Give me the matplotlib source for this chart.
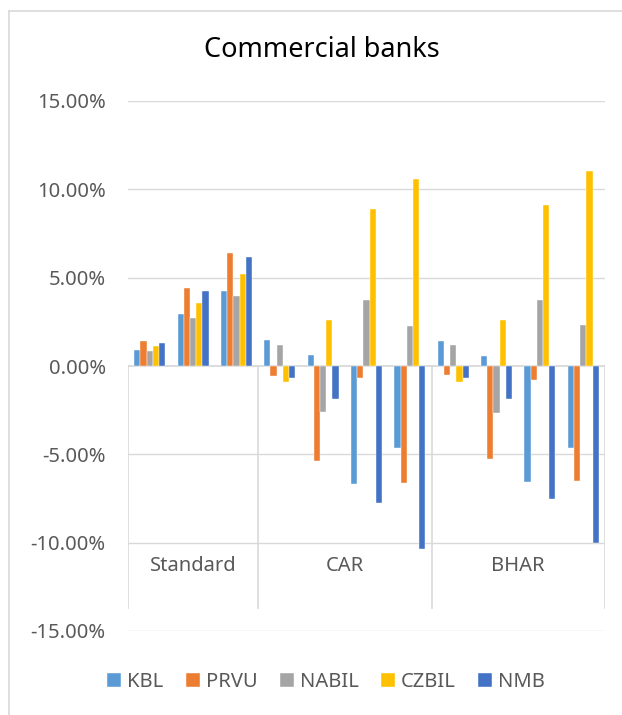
"""
plot.py
Grouped bar chart of abnormal returns for commercial banks.
"""

import numpy as np
import matplotlib.pyplot as plt
from matplotlib.lines import Line2D

# banks (series) and their colours
banks = ['KBL', 'PRVU', 'NABIL', 'CZBIL', 'NMB']
colors = ['#5B9BD5', '#ED7D31', '#A5A5A5', '#FFC000', '#4472C4']

# outer categories and how many windows each one holds
groups = ['Standard', 'CAR', 'BHAR']
group_sizes = [3, 4, 4]

# values in percent, one entry per window (3 + 4 + 4 = 11)
kbl = [0.89, 2.94, 4.26, 1.46, 0.61, -6.69, -4.64, 1.44, 0.55, -6.55, -4.62]
prvu = [1.40, 4.41, 6.40, -0.55, -5.36, -0.66, -6.61, -0.53, -5.28, -0.81, -6.50]
nabil = [0.83, 2.71, 3.94, 1.17, -2.59, 3.71, 2.27, 1.17, -2.67, 3.71, 2.31]
czbil = [1.12, 3.58, 5.19, -0.89, 2.59, 8.90, 10.61, -0.89, 2.58, 9.13, 11.04]
nmb = [1.33, 4.26, 6.17, -0.70, -1.84, -7.78, -10.36, -0.70, -1.84, -7.52, -10.04]

yticks = [-15, -10, -5, 0, 5, 10, 15]

series = [kbl, prvu, nabil, czbil, nmb]

grid_col = '#D9D9D9'
text_col = '#595959'
font = 'Noto Sans'

fig = plt.figure(figsize=(6.22, 7.15), dpi=100)
ax = fig.add_axes([128 / 622, 1 - 631 / 715, (605 - 128) / 622, 530 / 715])

n = len(kbl)
x = np.arange(n) + 0.5
width = 0.143
for j, (name, vals, col) in enumerate(zip(banks, series, colors)):
    ax.bar(x + (j - 2) * width, vals, width, color=col, label=name,
           edgecolor='white', linewidth=0.3, zorder=3)

ax.set_xlim(0, n)
ax.set_ylim(-15, 15)
ax.set_yticks(yticks)
ax.set_yticklabels(['%.2f%%' % v for v in yticks], fontsize=14.5,
                   color=text_col, family=font)
ax.tick_params(axis='y', length=0, pad=16)
ax.set_xticks([])
for s in ax.spines.values():
    s.set_visible(False)

# gridlines
for v in yticks:
    ax.axhline(v, color=grid_col, lw=1.3 if v == 0 else 1.0, zorder=1)

# multi-level category axis: separators and outer labels
edges = np.concatenate([[0], np.cumsum(group_sizes)])
for e in edges:
    ax.plot([e, e], [0, -13.7], color=grid_col, lw=1.2, zorder=1)
for g, a, b in zip(groups, edges[:-1], edges[1:]):
    ax.text((a + b) / 2, -11.3, g, ha='center', va='center',
            fontsize=14.5, color=text_col, family=font)

fig.text(322 / 622, 1 - 50 / 715, 'Commercial banks', ha='center',
         va='center', fontsize=19.5, color='black', family=font)

leg = fig.legend(loc='center', bbox_to_anchor=(326 / 622, 1 - 682 / 715),
                 ncol=5, frameon=False, handlelength=0.7, handleheight=0.7,
                 handletextpad=0.3, columnspacing=1.1,
                 prop={'family': font, 'size': 14.5})
for t in leg.get_texts():
    t.set_color(text_col)

# chart border (top and left edges are visible)
fig.add_artist(Line2D([9 / 622, 9 / 622], [0, 1 - 11 / 715],
                      transform=fig.transFigure, color=grid_col, lw=1.2))
fig.add_artist(Line2D([9 / 622, 1], [1 - 11 / 715, 1 - 11 / 715],
                      transform=fig.transFigure, color=grid_col, lw=1.2))

fig.savefig('out.png', dpi=100)
